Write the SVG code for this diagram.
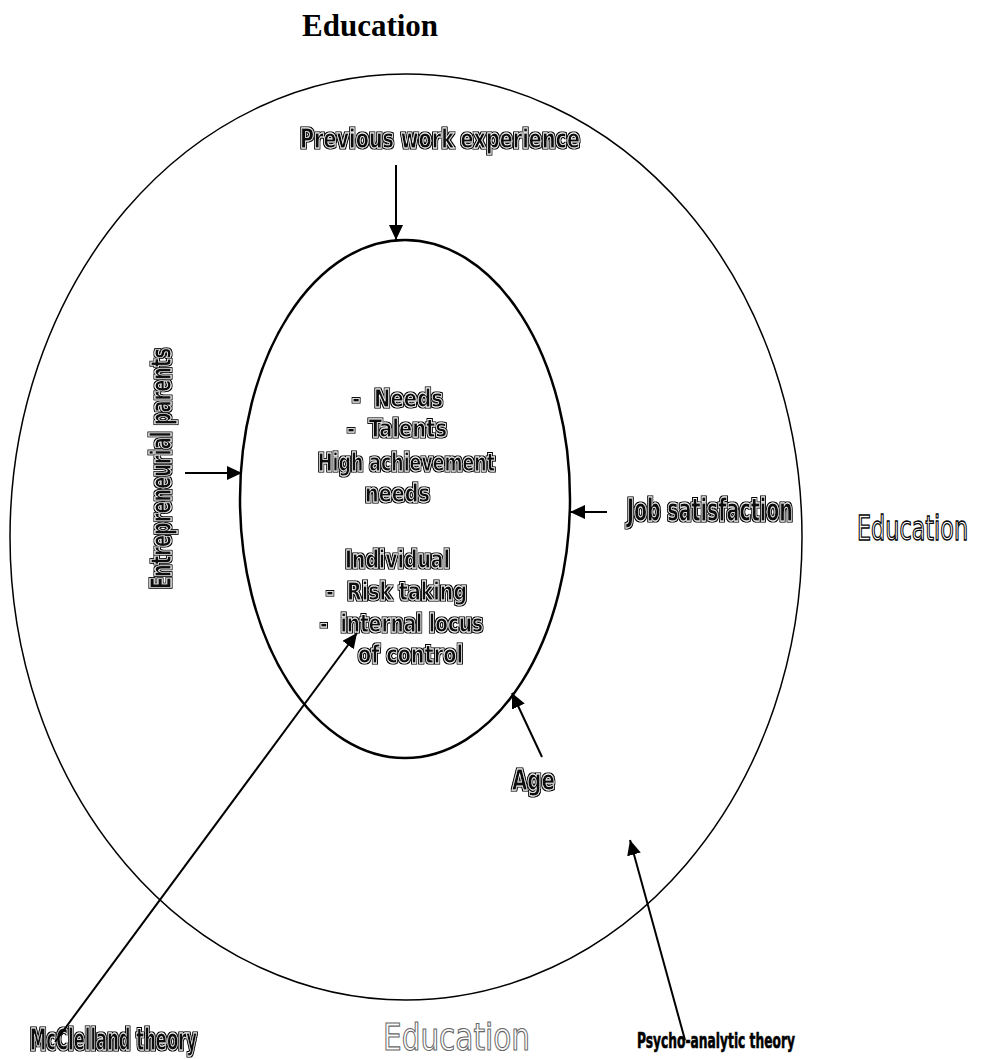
<svg xmlns="http://www.w3.org/2000/svg" width="982" height="1059" viewBox="0 0 982 1059">
<style>
.ol{font-family:"DejaVu Sans Condensed","DejaVu Sans",sans-serif;font-weight:bold;fill:#111;stroke:#fff;stroke-width:0.8;filter:url(#outl)}
.hol{font-family:"DejaVu Sans Condensed","DejaVu Sans",sans-serif;font-weight:normal;fill:#fff;stroke:#000;stroke-width:1.3}
.sol{font-family:"DejaVu Sans Condensed","DejaVu Sans",sans-serif;font-weight:bold;fill:#000;stroke:#000;stroke-width:0.6}
.conn line{stroke:#000;stroke-width:2;marker-end:url(#ah)}
</style>
<defs>
<filter id="outl" x="-10%" y="-30%" width="120%" height="160%">
<feMorphology in="SourceAlpha" operator="dilate" radius="1" result="d"/>
<feMerge><feMergeNode in="d"/><feMergeNode in="SourceGraphic"/></feMerge>
</filter>
<marker id="ah" markerUnits="userSpaceOnUse" markerWidth="16" markerHeight="16" refX="15" refY="7" orient="auto">
<path d="M0,0 L15,7 L0,14 z" fill="#000"/>
</marker>
</defs>
<rect width="982" height="1059" fill="#fff"/>
<text id="title" x="302" y="36" font-family="Liberation Serif,serif" font-weight="bold" font-size="31" fill="#000">Education</text>
<g id="outer"><ellipse cx="406" cy="537" rx="396" ry="463" fill="none" stroke="#000" stroke-width="1.5"/></g>
<g id="inner"><ellipse cx="405" cy="499" rx="165" ry="259" fill="none" stroke="#000" stroke-width="2.5"/>
<g font-size="25">
<text class="ol" x="352" y="407" textLength="91" lengthAdjust="spacingAndGlyphs">-&#160; Needs</text>
<text class="ol" x="347" y="437" textLength="100" lengthAdjust="spacingAndGlyphs">-&#160; Talents</text>
<text class="ol" x="318" y="471" textLength="177" lengthAdjust="spacingAndGlyphs">High achievement</text>
<text class="ol" x="365" y="502" textLength="65" lengthAdjust="spacingAndGlyphs">needs</text>
<text class="ol" x="345" y="568" textLength="105" lengthAdjust="spacingAndGlyphs">Individual</text>
<text class="ol" x="326" y="600" textLength="141" lengthAdjust="spacingAndGlyphs">-&#160; Risk taking</text>
<text class="ol" x="320" y="632" textLength="163" lengthAdjust="spacingAndGlyphs">-&#160; internal locus</text>
<text class="ol" x="358" y="663" textLength="105" lengthAdjust="spacingAndGlyphs">of control</text>
</g>
</g>
<g id="prev"><text class="ol" x="300" y="148" font-size="26" textLength="280" lengthAdjust="spacingAndGlyphs">Previous work experience</text></g>
<g id="parents"><text class="ol" transform="translate(171,589) rotate(-90)" x="0" y="0" font-size="29" textLength="241" lengthAdjust="spacingAndGlyphs">Entrepreneurial parents</text></g>
<g id="job"><text class="ol" transform="translate(627,521) scale(0.66,1)" x="0" y="0" font-size="32">Job satisfaction</text></g>
<g id="edu-right"><text class="hol" transform="translate(857,540) scale(0.73,1)" x="0" y="0" font-size="34">Education</text></g>
<g id="age"><text class="ol" x="512" y="790" font-size="29" textLength="43" lengthAdjust="spacingAndGlyphs">Age</text></g>
<g id="mcclelland"><text class="ol" x="30" y="1050" font-size="31" textLength="167" lengthAdjust="spacingAndGlyphs">McClelland theory</text></g>
<g id="edu-bottom"><text class="hol" x="383" y="1050" font-size="38" textLength="147" lengthAdjust="spacingAndGlyphs" style="stroke:#666;stroke-width:1.1">Education</text></g>
<g id="psycho"><text class="sol" x="637" y="1048" font-size="22" textLength="158" lengthAdjust="spacingAndGlyphs">Psycho-analytic theory</text></g>
<g id="connectors" class="conn">
<line x1="396" y1="165" x2="396" y2="240"/>
<line x1="185" y1="473" x2="242" y2="473"/>
<line x1="607" y1="512" x2="570" y2="512"/>
<line x1="542" y1="757" x2="512" y2="693"/>
<line x1="55" y1="1042" x2="357" y2="633"/>
<line x1="685" y1="1040" x2="630" y2="840"/>
</g>
</svg>
